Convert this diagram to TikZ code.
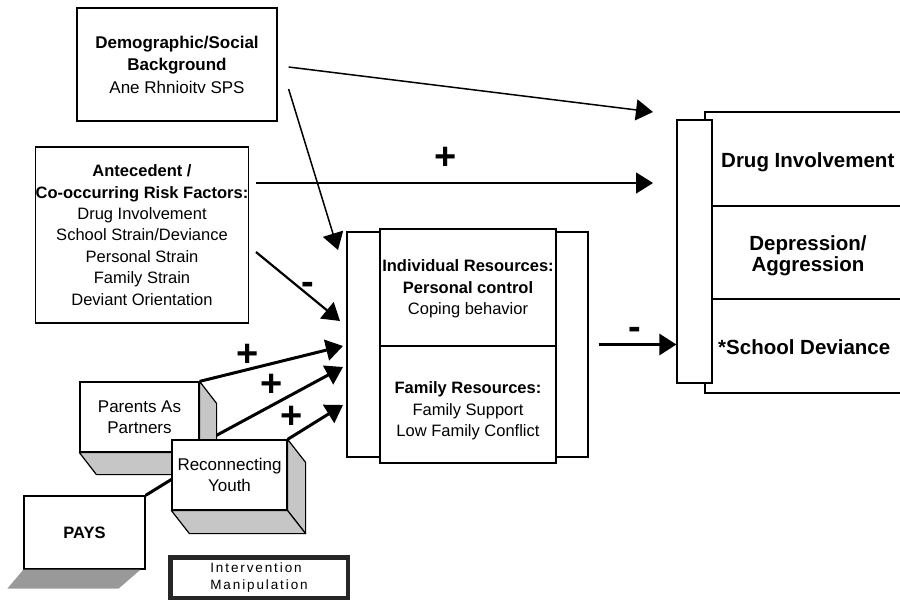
\documentclass[tikz,border=0pt]{standalone}
\usepackage{fontspec}
\setmainfont{Liberation Sans}
\newfontfamily\legendfont[LetterSpace=14]{Liberation Sans}
\usetikzlibrary{arrows.meta,calc}

\tikzset{
  box/.style={draw, line width=1.2pt, fill=white, inner sep=0pt, align=center},
  txt/.style={align=center, inner sep=0pt},
  thinarrow/.style={line width=1.5pt, -{Triangle[length=17pt,width=21pt]}},
  midarrow/.style={line width=2.2pt, -{Triangle[length=17pt,width=21pt]}},
  thickarrow/.style={line width=3pt, line join=round, -{Triangle[length=17pt,width=21pt]}},
  sign/.style={font=\bfseries\fontsize{38}{38}\selectfont, inner sep=0pt},
  face/.style={draw, line width=1.2pt, fill=gray!45, line join=round},
  shadowface/.style={fill=gray!80},
  smallfont/.style={font=\fontsize{16.5}{21.4}\selectfont},
  bigfont/.style={font=\bfseries\fontsize{20.5}{21}\selectfont},
}

\begin{document}
\begin{tikzpicture}[x=1pt,y=-1pt]
\useasboundingbox (0,0) rectangle (900,602);

% ---- source boxes ----
\node[box, minimum width=200pt, minimum height=113pt,
      font=\fontsize{17}{22.5}\selectfont] (demo) at (177,64.5)
  {\textbf{Demographic/Social}\\\textbf{Background}\\Ane Rhnioitv SPS};

\node[box, minimum width=212pt, minimum height=176pt, smallfont] (ante) at (142,235)
  {\textbf{Antecedent /}\\\textbf{Co-occurring Risk Factors:}\\Drug Involvement\\
   School Strain/Deviance\\Personal Strain\\Family Strain\\Deviant Orientation};

% ---- mediating resources ----
\node[box, minimum width=241pt, minimum height=225pt] (midouter) at (467.5,344.5) {};
\node[box, minimum width=176pt, minimum height=234pt] (mid) at (468,346) {};
\draw[line width=1.2pt] (mid.west) -- (mid.east);
\node[txt, smallfont] (indiv) at (468,289)
  {\textbf{Individual Resources:}\\\textbf{Personal control}\\Coping behavior};
\node[txt, smallfont] (family) at (468,411)
  {\textbf{Family Resources:}\\Family Support\\Low Family Conflict};

% ---- outcomes ----
\draw[line width=1.2pt] (900,112) -- (705,112) -- (705,393) -- (900,393);
\draw[line width=1.2pt] (712,206) -- (900,206);
\draw[line width=1.2pt] (712,299) -- (900,299);
\node[box, minimum width=35pt, minimum height=263pt] (bar) at (694.5,251.5) {};
\node[txt, bigfont, anchor=base west] (drug) at (721,167) {Drug Involvement};
\node[txt, bigfont] (depr) at (808,256) {Depression/\\Aggression};
\node[txt, bigfont, anchor=base west] (school) at (718,354) {*School Deviance};

% ---- arrow end points ----
\coordinate (tipA) at (653,112);
\coordinate (tipB) at (653,183);
\coordinate (tipC) at (338,250);
\coordinate (tipD) at (340,321);
\coordinate (tip1) at (343,346);
\coordinate (tip2) at (343,367);
\coordinate (tip3) at (343,405);

% ---- paths from the source boxes ----
\draw[thinarrow] ([xshift=11pt,yshift=-2.5pt]demo.east) -- (tipA);
\draw[thinarrow] ([xshift=7pt,yshift=52pt]ante.east) -- (tipB);
\draw[thinarrow] ([xshift=11pt,yshift=-24.5pt]demo.east) -- (tipC);
\draw[midarrow] ([xshift=7pt,yshift=-17pt]ante.east) -- (tipD);
\draw[thickarrow] ([xshift=10pt]midouter.east) -- (bar.west |- midouter.east);

\node[sign] (plusA) at (446,158) {+};
\node[sign] (minusA) at (308,288) {-};
\node[sign] (minusB) at (635,333) {-};

% ---- intervention programmes ----
\node[box, minimum width=121pt, minimum height=73pt,
      font=\bfseries\fontsize{16.5}{20}\selectfont] (pays) at (84.5,532.5) {PAYS};
\fill[shadowface] (pays.south west) -- ($(pays.south east)+(-5,0)$)
  -- ($(pays.south east)+(-27,19)$) -- ($(pays.south west)+(-16,19)$) -- cycle;

% PAYS link runs behind the two program blocks
\draw[thickarrow] (pays.north east) -- (190,468) -- (206,441) -- (tip2);

\node[box, minimum width=119pt, minimum height=70pt,
      font=\fontsize{17}{21}\selectfont] (pap) at (139.5,417) {Parents As\\Partners};
\draw[face] (pap.north east) -- ($(pap.north east)+(17,22)$)
  -- ($(pap.south east)+(17,22)$) -- (pap.south east) -- cycle;
\draw[face] (pap.south west) -- (pap.south east)
  -- ($(pap.south east)+(17,22)$) -- ($(pap.south west)+(17,22)$) -- cycle;
\draw[thickarrow] (pap.north east) -- (tip1);

\node[box, minimum width=115pt, minimum height=70pt,
      font=\fontsize{17}{21}\selectfont] (rec) at (229.5,475) {Reconnecting\\Youth};
\draw[face] (rec.north east) -- ($(rec.north east)+(18,23)$)
  -- ($(rec.south east)+(18,23)$) -- (rec.south east) -- cycle;
\draw[face] (rec.south west) -- (rec.south east)
  -- ($(rec.south east)+(18,23)$) -- ($(rec.south west)+(18,23)$) -- cycle;
\draw[thickarrow] (rec.north east) -- (tip3);

\node[sign] (plus1) at (248,355) {+};
\node[sign] (plus2) at (272,385) {+};
\node[sign] (plus3) at (292,417) {+};

% ---- legend ----
\node[draw=black!85, line width=4.5pt, minimum width=177.5pt, minimum height=40.5pt,
      inner sep=0pt, align=left, font=\legendfont\fontsize{13.5}{17}\selectfont]
  (legend) at (259,577.5) {Intervention\\Manipulation};
\end{tikzpicture}
\end{document}
